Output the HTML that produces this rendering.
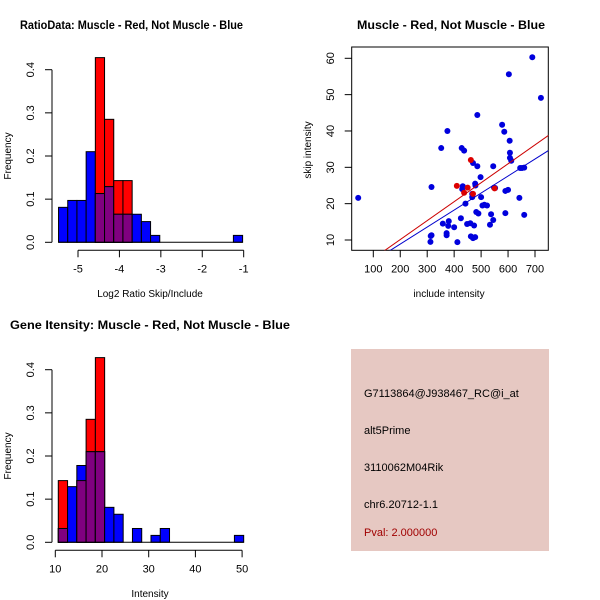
<!DOCTYPE html>
<html><head><meta charset="utf-8"><style>
body{margin:0;background:#fff}
svg{display:block;font-family:"Liberation Sans",Arial,sans-serif}
</style></head><body>
<svg id="chart" width="600" height="600" viewBox="0 0 600 600">
<rect x="0" y="0" width="600" height="600" fill="#fff"/>
<g id="p1"></g>
<g id="p2"></g>
<g id="p3"></g>
<g>
<rect x="351" y="349" width="198" height="202" fill="#e6c8c2"/>
<g font-size="11" fill="#000">
<text x="364" y="397">G7113864@J938467_RC@i_at</text>
<text x="364" y="434">alt5Prime</text>
<text x="364" y="471">3110062M04Rik</text>
<text x="364" y="508">chr6.20712-1.1</text>
<text x="364" y="536" fill="#a00000">Pval: 2.000000</text>
</g></g>
</svg>
<script>
// Ratio histogram data
const ratioBinStart = -5.47;
const ratioBinWidth = 0.2222;
const ratioBlue = [0.081,0.097,0.097,0.21,0.113,0.129,0.065,0.065,0.065,0.048,0.016,0,0,0,0,0,0,0,0,0.016];
const ratioRed  = [0,0,0,0,0.428,0.285,0.143,0.143,0,0,0,0,0,0,0,0,0,0,0,0];
const ratioXTicks = [-5,-4,-3,-2,-1];
const freqTicks = [0,0.1,0.2,0.3,0.4];
// Intensity histogram data
const intBinStart = 10.64;
const intBinWidth = 1.985;
const intBlue = [0.032,0.129,0.178,0.21,0.21,0.081,0.065,0,0.032,0,0.016,0.032,0,0,0,0,0,0,0,0.016];
const intRed  = [0.143,0,0.143,0.285,0.428,0,0,0,0,0,0,0,0,0,0,0,0,0,0,0];
const intXTicks = [10,20,30,40,50];
// Scatter data
const blueX = [44,316,313,316,312,352,375,358,372,372,378,380,400,412,425,428,437,432,430,442,448,460,462,470,478,467,467,470,474,478,479,482,486,486,490,498,500,505,512,522,533,537,545,545,548,552,578,586,590,590,600,603,606,607,607,612,642,645,652,660,660,690,722];
const blueY = [21.6,24.6,11.1,11.3,9.5,35.3,40,14.5,11.9,11.3,13.9,15.2,13.5,9.4,16,35.3,34.6,24.8,24,20,14.4,14.6,11,10.5,10.8,22.7,21.8,31.2,14,25.5,25,17.7,30.3,44.4,17.3,27.3,21.8,19.5,19.7,19.5,14.2,17.1,15.5,30.3,24.4,24.3,41.7,39.8,23.5,17.4,23.8,55.6,37.3,34,32.6,31.8,21.6,29.8,29.8,29.9,16.9,60.3,49.1];
const redX = [410,437,450,462,470,550];
const redY = [24.9,23,24.4,32,22.7,24.2];
const redFit = [-0.3,0.0521];
const blueFit = [-0.48,0.0468];
const scatXTicks = [100,200,300,400,500,600,700];
const scatYTicks = [10,20,30,40,50,60];

const NS="http://www.w3.org/2000/svg";
function mk(parent,tag,attrs,txt){const e=document.createElementNS(NS,tag);for(const k in attrs)e.setAttribute(k,attrs[k]);if(txt!==undefined)e.textContent=txt;parent.appendChild(e);return e;}

function histo(g, binStart, binW, blue, red, xTicks, xfn, yfn, xAxisY, xlabel, title, titleX, titleY, titleLen, xlabY){
  const y0=yfn(0);
  for(let i=0;i<blue.length;i++){
    const a=binStart+i*binW,b=a+binW;
    const x1=xfn(a),x2=xfn(b);
    const hb=blue[i],hr=red[i];
    if(hr>0){
      const r=mk(g,'rect',{x:x1,y:yfn(hr),width:x2-x1,height:y0-yfn(hr),fill:'#ff0000',stroke:'#000','stroke-width':1});
      
      
    }
    if(hb>0){
      const r=mk(g,'rect',{x:x1,y:yfn(hb),width:x2-x1,height:y0-yfn(hb),fill:'#0000ff',stroke:'#000','stroke-width':1});
      
      
    }
    const m=Math.min(hb,hr);
    if(m>0){
      const r=mk(g,'rect',{x:x1,y:yfn(m),width:x2-x1,height:y0-yfn(m),fill:'#800080',stroke:'#000','stroke-width':1});
      
      
    }
  }
  const lastX=xfn(binStart+blue.length*binW);
  mk(g,'line',{x1:xfn(binStart),y1:y0,x2:lastX,y2:y0,stroke:'#000'});
  const ya=mk(g,'g',{});
  
  
  mk(ya,'line',{x1:52,y1:yfn(0),x2:52,y2:yfn(0.4),stroke:'#000'});
  freqTicks.forEach(t=>{const y=yfn(t);mk(ya,'line',{x1:45,y1:y,x2:52,y2:y,stroke:'#000'});
    mk(ya,'text',{x:34,y:y,'font-size':11,'text-anchor':'middle',transform:`rotate(-90 34 ${y})`},String(t===0?'0.0':t));});
  const yl=mk(g,'text',{x:11,y:(yfn(0)+yfn(0.4))/2,'font-size':10,'text-anchor':'middle',transform:`rotate(-90 11 ${(yfn(0)+yfn(0.4))/2})`},'Frequency');
  
  
  const xa=mk(g,'g',{});
  
  
  mk(xa,'line',{x1:xfn(xTicks[0]),y1:xAxisY,x2:xfn(xTicks[xTicks.length-1]),y2:xAxisY,stroke:'#000'});
  xTicks.forEach(t=>{const x=xfn(t);mk(xa,'line',{x1:x,y1:xAxisY,x2:x,y2:xAxisY+7,stroke:'#000'});
    mk(xa,'text',{x:x,y:xAxisY+22,'font-size':11,'text-anchor':'middle'},String(t));});
  const xl=mk(g,'text',{x:150,y:xlabY,'font-size':10,'text-anchor':'middle'},xlabel);
  
  
  const tt=mk(g,'text',{x:titleX,y:titleY,'font-size':11.5,'font-weight':'bold',textLength:titleLen,lengthAdjust:'spacingAndGlyphs'},title);
  
  
}

(function(){
  const g=document.getElementById('p1');
  const xfn=v=>78+(v+5)*41.42;
  const yfn=v=>242.3-v*431.5;
  histo(g,ratioBinStart,ratioBinWidth,ratioBlue,ratioRed,ratioXTicks,xfn,yfn,250.3,'Log2 Ratio Skip/Include','RatioData: Muscle - Red, Not Muscle - Blue',20,29,223,297);
})();
(function(){
  const g=document.getElementById('p3');
  const xfn=v=>55.3+(v-10)*4.67;
  const yfn=v=>542.3-v*431.5;
  histo(g,intBinStart,intBinWidth,intBlue,intRed,intXTicks,xfn,yfn,550.3,'Intensity','Gene Itensity: Muscle - Red, Not Muscle - Blue',10,329,280,597);
})();
(function(){
  const g=document.getElementById('p2');
  const xfn=v=>373.3+(v-100)*0.2695;
  const yfn=v=>240-(v-10)*3.634;
  const L=351.7,R=548.3,T=47,B=250.3;
  const box=mk(g,'rect',{x:L,y:T,width:R-L,height:B-T,fill:'none',stroke:'#000'});
  
  
  const cl=mk(g,'clipPath',{id:'clip2'});mk(cl,'rect',{x:L,y:T,width:R-L,height:B-T});
  blueX.forEach((x,i)=>{const c=mk(g,'circle',{cx:xfn(x),cy:yfn(blueY[i]),r:3,fill:'#0000dd'});
    
    });
  redX.forEach((x,i)=>{const c=mk(g,'circle',{cx:xfn(x),cy:yfn(redY[i]),r:3,fill:'#dd0000'});
    
    });
  [[redFit,'#cc0000','red-fit-line'],[blueFit,'#0000cc','blue-fit-line']].forEach(([f,c,n])=>{
    const xa=0,xb=800;
    const l=mk(g,'line',{x1:xfn(xa),y1:yfn(f[0]+f[1]*xa),x2:xfn(xb),y2:yfn(f[0]+f[1]*xb),stroke:c,'stroke-width':1,'clip-path':'url(#clip2)'});
    
    
  });
  const xa=mk(g,'g',{});
  
  
  scatXTicks.forEach(t=>{const x=xfn(t);mk(xa,'line',{x1:x,y1:B,x2:x,y2:B+7,stroke:'#000'});
    mk(xa,'text',{x:x,y:B+22,'font-size':11,'text-anchor':'middle'},String(t));});
  const ya=mk(g,'g',{});
  
  
  scatYTicks.forEach(t=>{const y=yfn(t);mk(ya,'line',{x1:L-7,y1:y,x2:L,y2:y,stroke:'#000'});
    mk(ya,'text',{x:334,y:y,'font-size':11,'text-anchor':'middle',transform:`rotate(-90 334 ${y})`},String(t));});
  const xl=mk(g,'text',{x:449,y:297,'font-size':10,'text-anchor':'middle'},'include intensity');
  
  
  const yl=mk(g,'text',{x:311,y:150,'font-size':10,'text-anchor':'middle',transform:'rotate(-90 311 150)'},'skip intensity');
  
  
  const tt=mk(g,'text',{x:357,y:29,'font-size':11.5,'font-weight':'bold',textLength:188,lengthAdjust:'spacingAndGlyphs'},'Muscle - Red, Not Muscle - Blue');
  
  
})();
</script>
</body></html>
